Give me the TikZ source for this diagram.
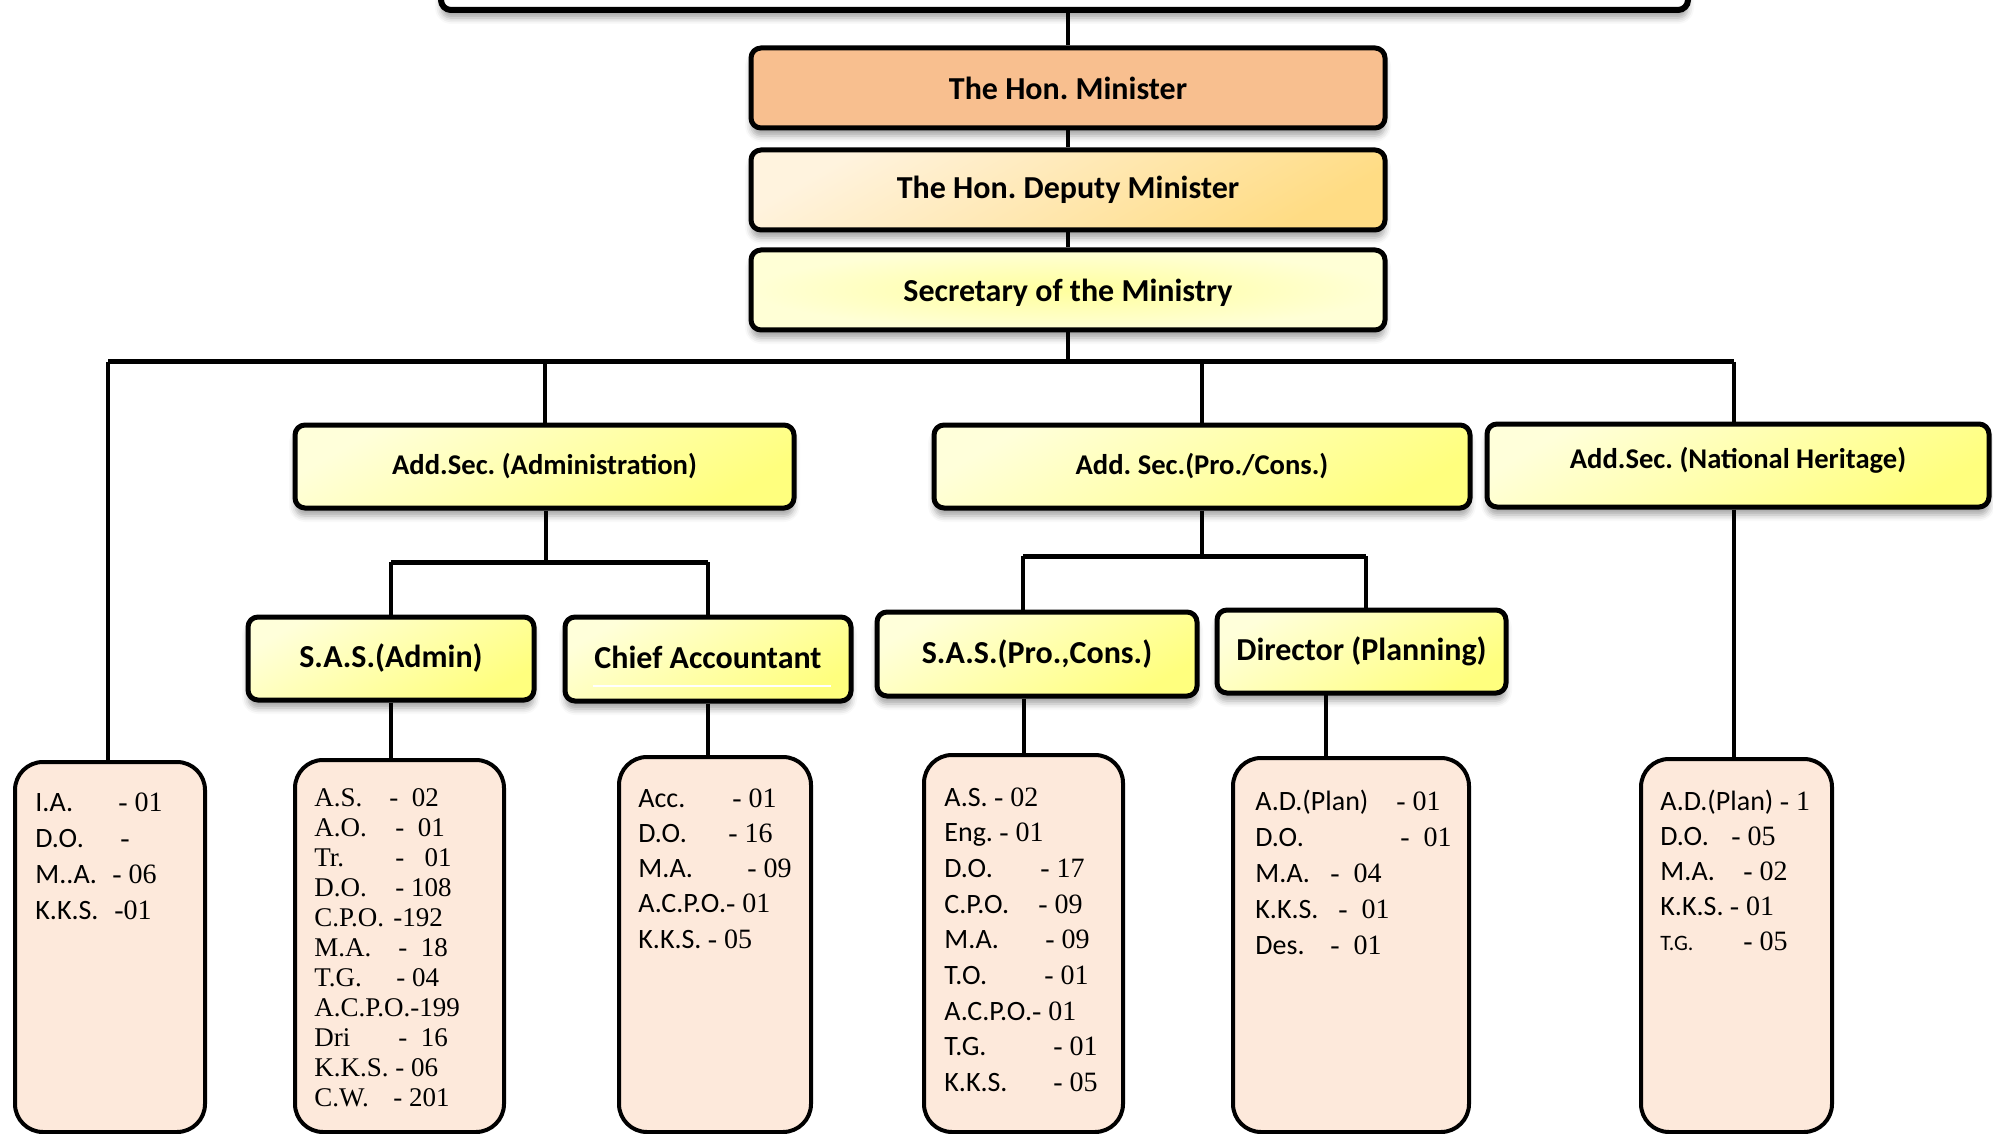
\documentclass[tikz,border=0pt]{standalone}
\usepackage{fontspec}
\setmainfont{Carlito}
\newfontfamily\tms{Liberation Serif}
\usetikzlibrary{shadows.blur,calc}
\frenchspacing
\newcommand\Row[3]{\makebox[#1pt][l]{#2}{\tms #3}}
\newcommand\RowN[2]{#1{\tms #2}}
\newcommand\Shift[2]{\raisebox{#1}[\height][\depth]{#2}}
\definecolor{minc}{HTML}{F8BF8F}
\definecolor{depL}{HTML}{FFF3DE}
\definecolor{depD}{HTML}{FFDC84}
\definecolor{secC}{HTML}{FFFF9E}
\definecolor{secO}{HTML}{FFFFD6}
\definecolor{ylL}{HTML}{FFFFDA}
\definecolor{ylD}{HTML}{FFFF7E}
\definecolor{peach}{HTML}{FDE9DB}
\begin{document}
\begin{tikzpicture}[x=0.5pt,y=-0.5pt,
  hbox/.style={draw=black, line width=2.5pt, rounded corners=5pt,
    blur shadow={shadow xshift=0pt, shadow yshift=-4pt, shadow blur radius=3pt, shadow opacity=35},
    font=\bfseries\fontsize{16}{19}\selectfont, inner sep=0pt},
  ybox/.style={hbox, top color=ylL, bottom color=ylD, shading angle=30},
  addbox/.style={ybox, font=\bfseries\fontsize{14.3}{17}\selectfont},
  lbox/.style={draw=black, line width=2pt, rounded corners=14pt, fill=peach, inner sep=0pt},
  btext/.style={anchor=north west, inner sep=0pt, align=left},
  conn/.style={line width=2pt},
  bus/.style={line width=2.5pt}
]
\useasboundingbox (0,0) rectangle (1993,1134);
\clip (0,0) rectangle (1993,1134);

% top-level boxes
\node[hbox, fill=white, minimum width=623.5pt, minimum height=40pt, line width=3pt] (top) at (1064.5,-30) {};
\node[hbox, fill=minc, minimum width=317pt, minimum height=40pt] (min) at (1068,88) {The Hon. Minister};
\node[hbox, top color=depL, bottom color=depD, shading angle=30, minimum width=317pt, minimum height=40pt] (dep) at (1068,190) {The Hon. Deputy Minister};
\node[hbox, inner color=secC, outer color=secO, minimum width=317pt, minimum height=40pt] (sec) at (1068,290) {\Shift{-1.5pt}{Secretary of the Ministry}};

% additional secretaries
\node[addbox, minimum width=249.5pt, minimum height=41.5pt] (admin) at (544.5,466.5) {Add.Sec. (Administration)};
\node[addbox, minimum width=268pt, minimum height=41.5pt] (pro) at (1202,466.5) {Add. Sec.(Pro./Cons.)};
\node[addbox, minimum width=251pt, minimum height=41.5pt] (nat) at (1738,465.5) {\Shift{2.5pt}{Add.Sec. (National Heritage)}};

% sub boxes
\node[ybox, minimum width=143pt, minimum height=41.5pt] (sasA) at (391,658.5) {S.A.S.(Admin)};
\node[ybox, minimum width=143pt, minimum height=42pt] (chief) at (708,659) {\Shift{1pt}{Chief Accountant}};
\node[ybox, minimum width=160pt, minimum height=42pt] (sasP) at (1037,654) {S.A.S.(Pro.,Cons.)};
\node[ybox, minimum width=144.5pt, minimum height=41.5pt] (dir) at (1361.5,651.5) {Director (Planning)};
\draw[white, line width=1pt] ([xshift=15pt,yshift=9pt]chief.south west) -- ([xshift=-11.5pt,yshift=9pt]chief.south east);

% bottom boxes
\node[lbox, minimum width=95pt, minimum height=185pt] (b1) at (110,947) {};
\node[lbox, minimum width=104.5pt, minimum height=186pt] (b2) at (399.5,946) {};
\node[lbox, minimum width=96pt, minimum height=187.5pt] (b3) at (715,944.5) {};
\node[lbox, minimum width=99.5pt, minimum height=188.5pt] (b4) at (1023.5,943.5) {};
\node[lbox, minimum width=118pt, minimum height=187pt] (b5) at (1351,945) {};
\node[lbox, minimum width=95.5pt, minimum height=186.5pt] (b6) at (1736.5,945.5) {};

% bottom texts
\node[btext, font=\fontsize{14}{18}\selectfont] (t1) at (35,792) {%
\Row{41.5}{I.A.}{- 01}\\
\Row{42.5}{D.O.}{-}\\
\Row{38.5}{M..A.}{- 06}\\
\Row{39.5}{K.K.S.}{-01}};
\node[btext, font=\tms\fontsize{13.5}{15}\selectfont] (t2) at (314,788) {%
\Row{37.5}{A.S.}{-\ \ 02}\\
\Row{40.5}{A.O.}{-\ \ 01}\\
\Row{40.5}{Tr.}{-\ \ \ 01}\\
\Row{40.5}{D.O.}{- 108}\\
\Row{39.5}{C.P.O.}{-192}\\
\Row{42}{M.A.}{-\ \ 18}\\
\Row{41}{T.G.}{- 04}\\
A.C.P.O.-199\\
\Row{42}{Dri}{-\ \ 16}\\
K.K.S. - 06\\
\Row{39.5}{C.W.}{- 201}};
\node[btext, font=\fontsize{14}{17.65}\selectfont] (t3) at (638,788) {%
\Row{47}{Acc.}{- 01}\\
\Row{45}{D.O.}{- 16}\\
\Row{54.5}{M.A.}{- 09}\\
\RowN{A.C.P.O.}{- 01}\\
\RowN{K.K.S. }{- 05}};
\node[btext, font=\fontsize{14}{17.85}\selectfont] (t4) at (944,787) {%
\RowN{A.S. }{- 02}\\
\RowN{Eng. }{- 01}\\
\Row{48}{D.O.}{- 17}\\
\Row{47}{C.P.O.}{- 09}\\
\Row{50.5}{M.A.}{- 09}\\
\Row{50}{T.O.}{- 01}\\
\RowN{A.C.P.O.}{- 01}\\
\Row{54.5}{T.G.}{- 01}\\
\Row{54.5}{K.K.S.}{- 05}};
\node[btext, font=\fontsize{14}{18}\selectfont] (t5) at (1255,790) {%
\Row{70.5}{A.D.(Plan)}{- 01}\\
\Row{72.5}{D.O.}{-\ \ 01}\\
\Row{37.5}{M.A.}{-\ \ 04}\\
\Row{41.5}{K.K.S.}{-\ \ 01}\\
\Row{37.5}{Des.}{-\ \ 01}};
\node[btext, font=\fontsize{14}{17.5}\selectfont] (t6) at (1660,790) {%
\RowN{A.D.(Plan) }{- 1}\\
\Row{35.5}{D.O.}{- 05}\\
\Row{41.5}{M.A.}{- 02}\\
\RowN{K.K.S. }{- 01}\\
\Row{41.5}{\fontsize{11}{13}\selectfont T.G.}{- 05}};

% connectors
\coordinate (busL) at (108,362);
\coordinate (busR) at (1734,362);
\coordinate (abus) at (546,562);
\coordinate (pl) at (1023,556);
\coordinate (pr) at (1366,556);
\coordinate (d5) at (1326,693);

\draw[conn] (top.south -| min.north) -- (min.north);
\draw[conn] (min.south) -- (dep.north);
\draw[conn] (dep.south) -- (sec.north);
\draw[conn] (sec.south) -- (sec.south |- busL);
\draw[bus] (busL) -- (busR);
\draw[conn] (busL) -- (b1.north -| busL);
\draw[conn] (admin.north |- busL) -- (admin.north);
\draw[conn] (pro.north |- busL) -- (pro.north);
\draw[conn] (busR) -- (nat.north -| busR);
\draw[conn] (nat.south -| busR) -- (b6.north -| busR);

\draw[conn] (admin.south -| abus) -- (abus);
\draw[bus] (sasA.north |- abus) -- (chief.north |- abus);
\draw[conn] (sasA.north |- abus) -- (sasA.north);
\draw[conn] (chief.north |- abus) -- (chief.north);

\draw[conn] (pro.south) -- (pro.south |- pl);
\draw[bus] (pl) -- (pr);
\draw[conn] (pl) -- (sasP.north -| pl);
\draw[conn] (pr) -- (dir.north -| pr);

\draw[conn] (sasA.south) -- (sasA.south |- b2.north);
\draw[conn] (chief.south) -- (chief.south |- b3.north);
\draw[conn] (sasP.south -| b4.north) -- (b4.north);
\draw[conn] (d5) -- (d5 |- b5.north);
\end{tikzpicture}
\end{document}
